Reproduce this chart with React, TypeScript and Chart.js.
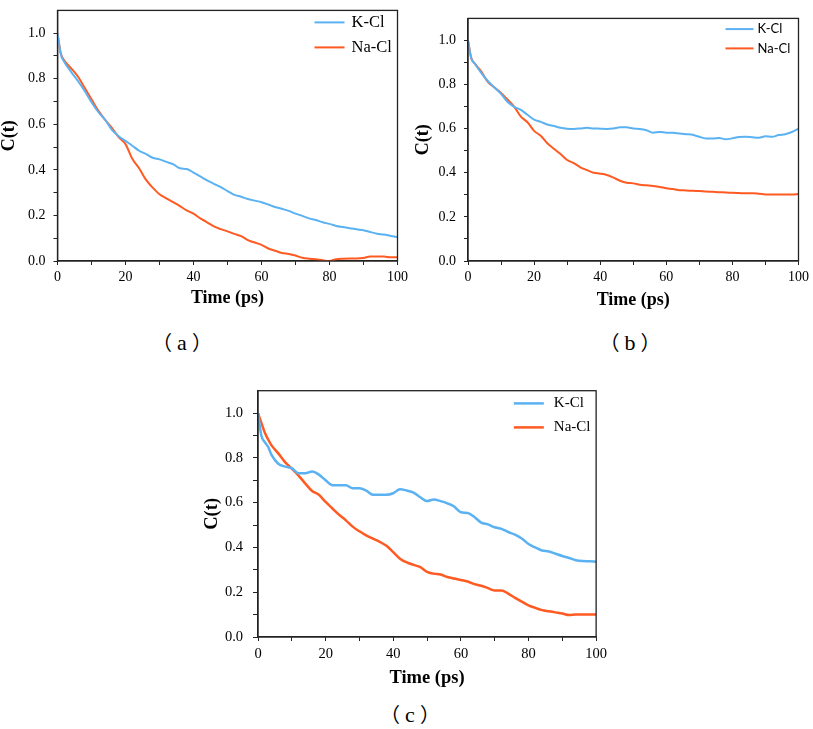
import React, { useEffect, useRef } from 'react';
import { Chart, registerables } from 'chart.js';

Chart.register(...registerables);

// ---------- data ----------
const timesA = [0, 1, 2, 4, 6, 8, 10, 12, 14, 16, 18, 20, 22, 24, 26, 28, 30, 32, 34, 36, 38, 40, 42, 44, 46, 48, 50, 52, 54, 56, 58, 60, 62, 64, 66, 68, 70, 72, 74, 76, 78, 80, 82, 84, 86, 88, 90, 92, 94, 96, 98, 100];
const kclA = [1.0, 0.905, 0.874, 0.83, 0.79, 0.746, 0.697, 0.654, 0.62, 0.576, 0.548, 0.527, 0.506, 0.484, 0.47, 0.453, 0.446, 0.435, 0.425, 0.407, 0.404, 0.388, 0.371, 0.354, 0.339, 0.324, 0.307, 0.29, 0.282, 0.272, 0.265, 0.258, 0.248, 0.237, 0.229, 0.22, 0.208, 0.198, 0.187, 0.18, 0.17, 0.163, 0.154, 0.149, 0.144, 0.139, 0.135, 0.127, 0.12, 0.116, 0.11, 0.105];
const naclA = [1.0, 0.91, 0.88, 0.846, 0.81, 0.76, 0.71, 0.66, 0.62, 0.584, 0.544, 0.513, 0.449, 0.407, 0.357, 0.322, 0.293, 0.275, 0.258, 0.241, 0.222, 0.208, 0.187, 0.17, 0.152, 0.14, 0.13, 0.119, 0.109, 0.092, 0.081, 0.071, 0.055, 0.045, 0.035, 0.031, 0.024, 0.014, 0.01, 0.008, 0.003, 0.0, 0.008, 0.01, 0.011, 0.011, 0.013, 0.02, 0.02, 0.02, 0.016, 0.016];

const timesB = [0, 1, 2, 4, 6, 8, 10, 12, 14, 16, 18, 20, 22, 24, 26, 28, 30, 32, 34, 36, 38, 40, 42, 44, 46, 48, 50, 52, 54, 56, 58, 60, 62, 64, 66, 68, 70, 72, 74, 76, 78, 80, 82, 84, 86, 88, 90, 92, 94, 96, 98, 100];
const kclB = [1.0, 0.918, 0.896, 0.853, 0.816, 0.787, 0.758, 0.721, 0.699, 0.685, 0.663, 0.641, 0.631, 0.619, 0.612, 0.604, 0.6, 0.599, 0.601, 0.604, 0.601, 0.6, 0.599, 0.601, 0.606, 0.606, 0.601, 0.599, 0.593, 0.582, 0.585, 0.582, 0.581, 0.578, 0.575, 0.572, 0.563, 0.556, 0.556, 0.558, 0.552, 0.556, 0.562, 0.563, 0.561, 0.559, 0.566, 0.563, 0.571, 0.575, 0.585, 0.6];
const naclB = [1.0, 0.92, 0.896, 0.86, 0.812, 0.787, 0.762, 0.731, 0.699, 0.655, 0.629, 0.59, 0.568, 0.534, 0.509, 0.485, 0.458, 0.444, 0.425, 0.412, 0.4, 0.396, 0.39, 0.378, 0.364, 0.355, 0.352, 0.346, 0.343, 0.34, 0.336, 0.33, 0.326, 0.321, 0.32, 0.318, 0.317, 0.315, 0.314, 0.312, 0.311, 0.309, 0.308, 0.307, 0.307, 0.305, 0.302, 0.301, 0.301, 0.302, 0.302, 0.304];

const timesC = [0, 1, 2, 3, 4, 6, 8, 10, 12, 14, 16, 18, 20, 22, 24, 26, 28, 30, 32, 34, 36, 38, 40, 42, 44, 46, 48, 50, 52, 54, 56, 58, 60, 62, 64, 66, 68, 70, 72, 74, 76, 78, 80, 82, 84, 86, 88, 90, 92, 94, 96, 98, 100];
const kclC = [1.0, 0.899, 0.87, 0.849, 0.813, 0.774, 0.761, 0.754, 0.731, 0.731, 0.739, 0.725, 0.7, 0.678, 0.678, 0.678, 0.664, 0.664, 0.654, 0.635, 0.635, 0.635, 0.642, 0.66, 0.654, 0.645, 0.624, 0.607, 0.614, 0.607, 0.597, 0.583, 0.557, 0.554, 0.536, 0.511, 0.503, 0.49, 0.483, 0.469, 0.457, 0.44, 0.415, 0.4, 0.386, 0.382, 0.372, 0.362, 0.353, 0.343, 0.339, 0.338, 0.336];
const naclC = [1.0, 0.956, 0.913, 0.882, 0.856, 0.82, 0.781, 0.752, 0.721, 0.685, 0.652, 0.635, 0.603, 0.574, 0.546, 0.521, 0.493, 0.472, 0.454, 0.439, 0.425, 0.407, 0.379, 0.35, 0.333, 0.322, 0.312, 0.291, 0.283, 0.279, 0.268, 0.261, 0.255, 0.248, 0.236, 0.229, 0.218, 0.208, 0.208, 0.194, 0.175, 0.158, 0.141, 0.13, 0.12, 0.115, 0.11, 0.105, 0.098, 0.101, 0.101, 0.101, 0.101];

const seriesLabels = ['K-Cl', 'Na-Cl'];
const captions = ['（a）', '（b）', '（c）'];
const xTitle = 'Time (ps)';
const yTitle = 'C(t)';

// ---------- styles ----------
const BLUE = '#5BB2F2';
const ORANGE = '#FF5A22';
const AXIS = '#222';
const SERIF = '"Liberation Serif", "Times New Roman", serif';
const CJK = '"Noto Sans CJK SC", sans-serif';

type PanelCfg = {
  times: number[];
  kcl: number[];
  nacl: number[];
  canvas: { left: number; top: number; width: number; height: number };
  pad: { left: number; top: number; right: number; bottom: number };
  yW: number;
  xH: number;
  tickFont: number;
  yTick: { len: number; pad: number };
  xTick: { len: number; pad: number };
  titleFont: number;
  lineWidth: number;
  legend: { offset: number; len: number; rowY: number; spacing: number; gap: number; font: string };
};

const panels: PanelCfg[] = [
  {
    times: timesA, kcl: kclA, nacl: naclA,
    canvas: { left: 0, top: -6, width: 412, height: 313 },
    pad: { left: 0, top: 8, right: 12, bottom: 0 },
    yW: 57.5, xH: 46, tickFont: 14,
    yTick: { len: 4, pad: 8 }, xTick: { len: 4, pad: 4 },
    titleFont: 18, lineWidth: 2,
    legend: { offset: 83, len: 30, rowY: 12, spacing: 25, gap: 7, font: `16.5px ${SERIF}` },
  },
  {
    times: timesB, kcl: kclB, nacl: naclB,
    canvas: { left: 414, top: 2, width: 399, height: 307 },
    pad: { left: 0, top: 8, right: 11, bottom: 0 },
    yW: 54, xH: 48, tickFont: 14,
    yTick: { len: 4, pad: 8 }, xTick: { len: 4, pad: 4 },
    titleFont: 18, lineWidth: 2,
    legend: { offset: 73, len: 28, rowY: 10.7, spacing: 19.3, gap: 4, font: `13px Lato, "Open Sans", sans-serif` },
  },
  {
    times: timesC, kcl: kclC, nacl: naclC,
    canvas: { left: 203, top: 372, width: 408, height: 315 },
    pad: { left: 0, top: 8, right: 12, bottom: 0 },
    yW: 55, xH: 50, tickFont: 14.5,
    yTick: { len: 5, pad: 10 }, xTick: { len: 4, pad: 4 },
    titleFont: 18.5, lineWidth: 2.5,
    legend: { offset: 82.3, len: 30, rowY: 12.7, spacing: 24, gap: 10, font: `15px ${SERIF}` },
  },
];

const captionPos = [
  { x: 182, y: 343 },
  { x: 630, y: 343 },
  { x: 410, y: 715 },
];

function makeOverlayPlugin(cfg: PanelCfg['legend']) {
  return {
    id: 'frameLegend',
    afterDatasetsDraw(chart: any) {
      const { ctx, chartArea } = chart;
      ctx.save();
      ctx.strokeStyle = AXIS;
      ctx.lineWidth = 1.3;
      ctx.strokeRect(chartArea.left, chartArea.top, chartArea.right - chartArea.left, chartArea.bottom - chartArea.top);
      chart.data.datasets.forEach((ds: any, i: number) => {
        const y = chartArea.top + cfg.rowY + i * cfg.spacing;
        const x0 = chartArea.right - cfg.offset;
        ctx.strokeStyle = ds.borderColor;
        ctx.lineWidth = ds.borderWidth;
        ctx.beginPath();
        ctx.moveTo(x0, y);
        ctx.lineTo(x0 + cfg.len, y);
        ctx.stroke();
        ctx.fillStyle = '#000';
        ctx.font = cfg.font;
        ctx.textBaseline = 'middle';
        ctx.textAlign = 'left';
        ctx.fillText(ds.label, x0 + cfg.len + cfg.gap, y);
      });
      ctx.restore();
    },
  };
}

function Panel({ cfg }: { cfg: PanelCfg }) {
  const ref = useRef<HTMLCanvasElement | null>(null);
  useEffect(() => {
    if (!ref.current) return;
    const tickFont = { family: SERIF, size: cfg.tickFont };
    const titleFontObj = { family: SERIF, size: cfg.titleFont, weight: 'bold' as const, lineHeight: 1 };
    const chart = new Chart(ref.current, {
      type: 'line',
      data: {
        datasets: [
          {
            label: seriesLabels[0],
            data: cfg.times.map((t, i) => ({ x: t, y: cfg.kcl[i] })),
            borderColor: BLUE,
            borderWidth: cfg.lineWidth,
            pointRadius: 0,
            cubicInterpolationMode: 'monotone',
            fill: false,
          },
          {
            label: seriesLabels[1],
            data: cfg.times.map((t, i) => ({ x: t, y: cfg.nacl[i] })),
            borderColor: ORANGE,
            borderWidth: cfg.lineWidth,
            pointRadius: 0,
            cubicInterpolationMode: 'monotone',
            fill: false,
          },
        ],
      },
      options: {
        animation: false,
        responsive: false,
        devicePixelRatio: 1,
        layout: { padding: cfg.pad },
        plugins: { legend: { display: false }, tooltip: { enabled: false } },
        scales: {
          x: {
            type: 'linear',
            min: 0,
            max: 100,
            afterFit: (s: any) => { s.height = cfg.xH; },
            border: { display: true, color: AXIS, width: 1.3 },
            grid: { display: true, drawOnChartArea: false, drawTicks: true, tickLength: cfg.xTick.len, color: AXIS, lineWidth: 1 },
            ticks: {
              stepSize: 10,
              autoSkip: false,
              maxRotation: 0,
              padding: cfg.xTick.pad,
              color: '#000',
              font: tickFont,
              callback: (v: any) => (Math.round(v) % 20 === 0 ? String(Math.round(v)) : ''),
            },
            title: { display: true, text: xTitle, color: '#000', font: titleFontObj, padding: { top: 0, bottom: 0 } },
          },
          y: {
            type: 'linear',
            min: 0,
            max: 1.1,
            afterFit: (s: any) => { s.width = cfg.yW; },
            border: { display: true, color: AXIS, width: 1.3 },
            grid: { display: true, drawOnChartArea: false, drawTicks: true, tickLength: cfg.yTick.len, color: AXIS, lineWidth: 1 },
            ticks: {
              stepSize: 0.1,
              autoSkip: false,
              padding: cfg.yTick.pad,
              color: '#000',
              font: tickFont,
              callback: (v: any) => {
                const k = Math.round(Number(v) * 10);
                if (k >= 11) return null;
                return k % 2 === 0 ? (k / 10).toFixed(1) : '';
              },
            },
            title: { display: true, text: yTitle, color: '#000', font: titleFontObj, padding: { top: 0, bottom: 0 } },
          },
        },
      } as any,
      plugins: [makeOverlayPlugin(cfg.legend)],
    });
    return () => chart.destroy();
  }, [cfg]);

  return (
    <canvas
      ref={ref}
      width={cfg.canvas.width}
      height={cfg.canvas.height}
      style={{
        position: 'absolute',
        left: cfg.canvas.left,
        top: cfg.canvas.top,
        width: cfg.canvas.width,
        height: cfg.canvas.height,
      }}
    />
  );
}

function Caption({ text, x, y }: { text: string; x: number; y: number }) {
  const chars = Array.from(text);
  return (
    <div
      style={{
        position: 'absolute',
        left: x,
        top: y,
        transform: 'translate(-50%, -50%)',
        fontSize: 20,
        lineHeight: 1,
        whiteSpace: 'nowrap',
        color: '#000',
      }}
    >
      {chars.map((ch, i) => {
        const isParen = ch === '（' || ch === '）';
        return (
          <span
            key={i}
            style={{
              fontFamily: isParen ? CJK : SERIF,
              fontSize: isParen ? 20 : 22,
              display: 'inline-block',
              paddingLeft: i === chars.length - 1 ? 0 : 0,
              marginRight: i < chars.length - 1 ? 5 : 0,
            }}
          >
            {ch}
          </span>
        );
      })}
    </div>
  );
}

export default function App() {
  return (
    <div
      style={{
        position: 'absolute',
        left: 0,
        top: 0,
        width: 813,
        height: 729,
        background: '#fff',
        overflow: 'hidden',
      }}
    >
      {panels.map((p, i) => (
        <Panel key={i} cfg={p} />
      ))}
      {captions.map((c, i) => (
        <Caption key={'c' + i} text={c} x={captionPos[i].x} y={captionPos[i].y} />
      ))}
    </div>
  );
}
